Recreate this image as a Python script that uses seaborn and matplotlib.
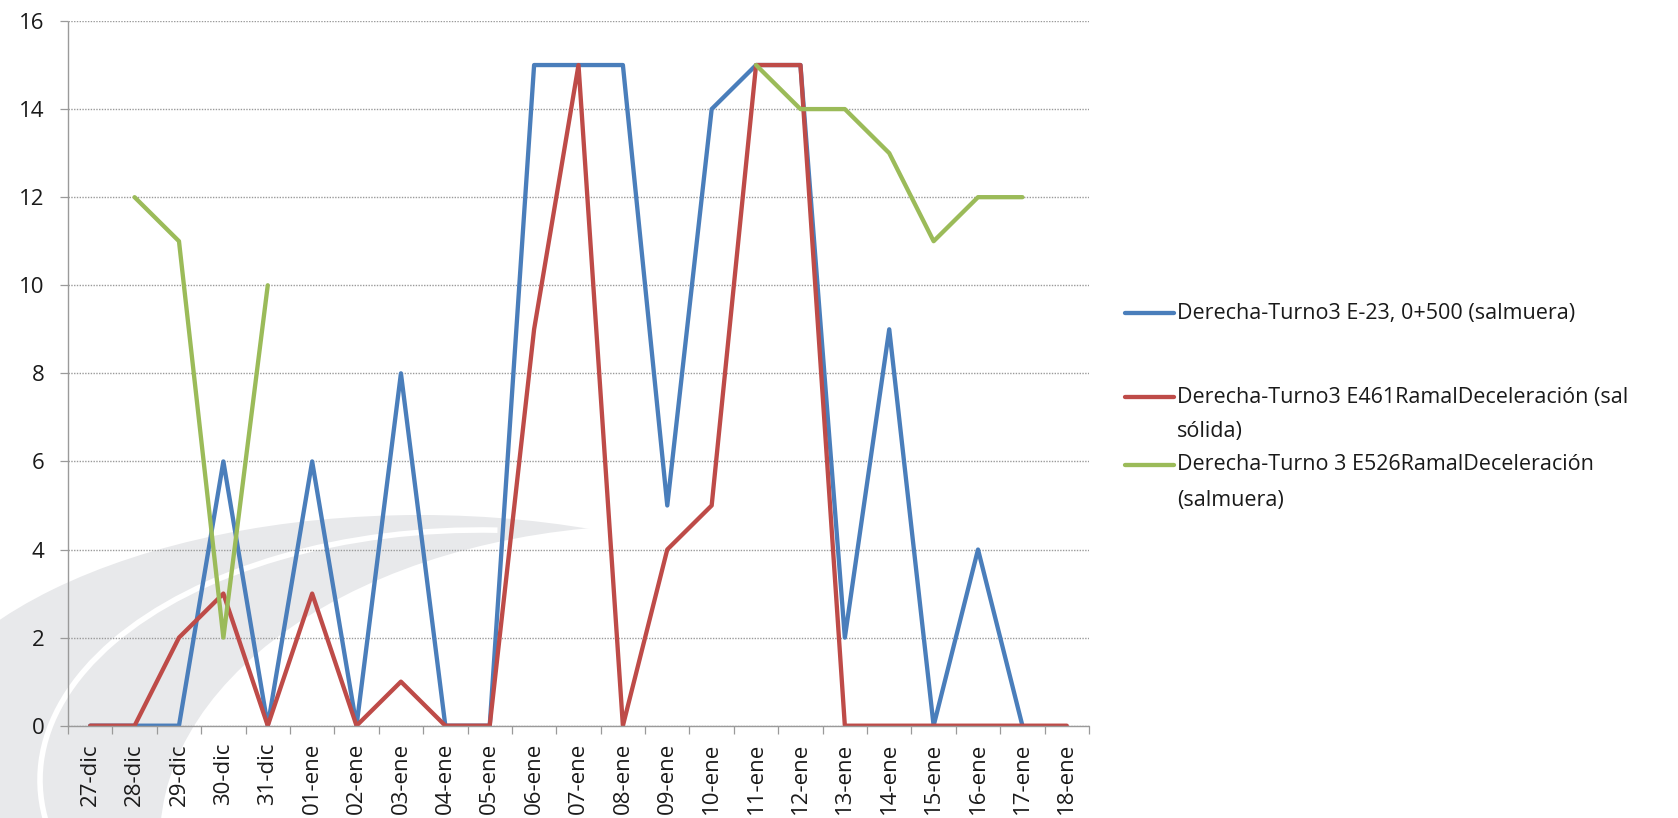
import numpy as np
import pandas as pd
import matplotlib
matplotlib.use("Agg")
import matplotlib.pyplot as plt
import seaborn as sns
from matplotlib.patches import Ellipse, Arc
from matplotlib.lines import Line2D
from matplotlib.transforms import IdentityTransform

# ---- data -----------------------------------------------------------------
fechas = ["27-dic", "28-dic", "29-dic", "30-dic", "31-dic", "01-ene", "02-ene",
          "03-ene", "04-ene", "05-ene", "06-ene", "07-ene", "08-ene", "09-ene",
          "10-ene", "11-ene", "12-ene", "13-ene", "14-ene", "15-ene", "16-ene",
          "17-ene", "18-ene"]

serie_e23 = [0, 0, 0, 6, 0, 6, 0, 8, 0, 0, 15, 15, 15, 5, 14, 15, 15, 2, 9, 0, 4, 0, None]
serie_e461 = [0, 0, 2, 3, 0, 3, 0, 1, 0, 0, 9, 15, 0, 4, 5, 15, 15, 0, 0, 0, 0, 0, 0]
serie_e526 = [None, 12, 11, 2, 10, None, None, None, None, None, None, None, None,
              None, None, 15, 14, 14, 13, 11, 12, 12, None]

etiquetas = [
    "Derecha-Turno3 E-23, 0+500 (salmuera)",
    "Derecha-Turno3 E461RamalDeceleración (sal\nsólida)",
    "Derecha-Turno 3 E526RamalDeceleración\n(salmuera)",
]
colores = ["#4a7ebb", "#be4b48", "#9bbb59"]
y_ticks = [0, 2, 4, 6, 8, 10, 12, 14, 16]

# ---- style ----------------------------------------------------------------
sns.set_theme(style="white")
plt.rcParams["font.family"] = ["Open Sans", "DejaVu Sans"]
FS_TICK = 16
FS_LEG = 15.5
W, H = 1678, 818

fig = plt.figure(figsize=(W / 100, H / 100), dpi=100, facecolor="white")

# soft background swoosh in the lower left corner
px = IdentityTransform()
fig.add_artist(Ellipse((420, H - 770), 1040, 510, transform=px,
                       facecolor="#e8e9eb", edgecolor="none", zorder=-3))
fig.add_artist(Ellipse((660, H - 840), 1000, 630, transform=px,
                       facecolor="white", edgecolor="none", zorder=-2))
fig.add_artist(Arc((480, H - 780), 880, 500, theta1=86, theta2=195, transform=px,
                   color="white", lw=4, zorder=-1))

ax = fig.add_axes([68 / W, (H - 725.7) / H, (1089 - 68) / W, (725.7 - 21) / H])
ax.set_facecolor("none")

# ---- lines ----------------------------------------------------------------
x = np.arange(len(fechas))
for valores, color in zip([serie_e23, serie_e461, serie_e526], colores):
    df = pd.DataFrame({"x": x, "y": pd.array(valores, dtype="Float64").astype(float)})
    grupo = df["y"].isna().cumsum()
    for _, tramo in df[df["y"].notna()].groupby(grupo[df["y"].notna()]):
        sns.lineplot(data=tramo, x="x", y="y", ax=ax, color=color, lw=3.1,
                     estimator=None, sort=False, legend=False)

# ---- axes -----------------------------------------------------------------
ax.set_xlim(-0.5, len(fechas) - 0.5)
ax.set_ylim(0, 16)
ax.set_xlabel("")
ax.set_ylabel("")
ax.set_yticks(y_ticks)
ax.set_yticklabels([str(v) for v in y_ticks])
ax.set_xticks(x)
ax.set_xticklabels(fechas, rotation=90)
ax.set_xticks(np.arange(-0.5, len(fechas), 1), minor=True)

grid_c = "#9a9a9a"
ax.yaxis.grid(True, color=grid_c, lw=1.0, ls=(0, (1, 1)))
ax.xaxis.grid(False)
for s in ["top", "right"]:
    ax.spines[s].set_visible(False)
for s in ["left", "bottom"]:
    ax.spines[s].set_color(grid_c)
    ax.spines[s].set_linewidth(1.0)
    ax.spines[s].set_linestyle((0, (1, 1)))

ax.tick_params(axis="y", which="major", left=True, length=5.8, width=0.9,
               color=grid_c, pad=11, labelsize=FS_TICK, labelcolor="#1a1a1a")
ax.tick_params(axis="x", which="major", bottom=True, length=0, pad=12.5,
               labelsize=FS_TICK, labelcolor="#1a1a1a")
ax.tick_params(axis="x", which="minor", bottom=True, length=5.8, width=0.9,
               color=grid_c)

# ---- legend ---------------------------------------------------------------
filas = [313, 397, 465]
for etiqueta, color, fila in zip(etiquetas, colores, filas):
    yf = 1 - fila / H
    fig.add_artist(Line2D([1125 / W, 1174 / W], [yf, yf], transform=fig.transFigure,
                          color=color, lw=3.1))
    for i, linea in enumerate(etiqueta.split("\n")):
        fig.text(1177 / W, 1 - (fila + 35 * i) / H, linea, fontsize=FS_LEG,
                 color="#1a1a1a", va="center", ha="left")

fig.savefig("out.png", dpi=100, facecolor="white")
